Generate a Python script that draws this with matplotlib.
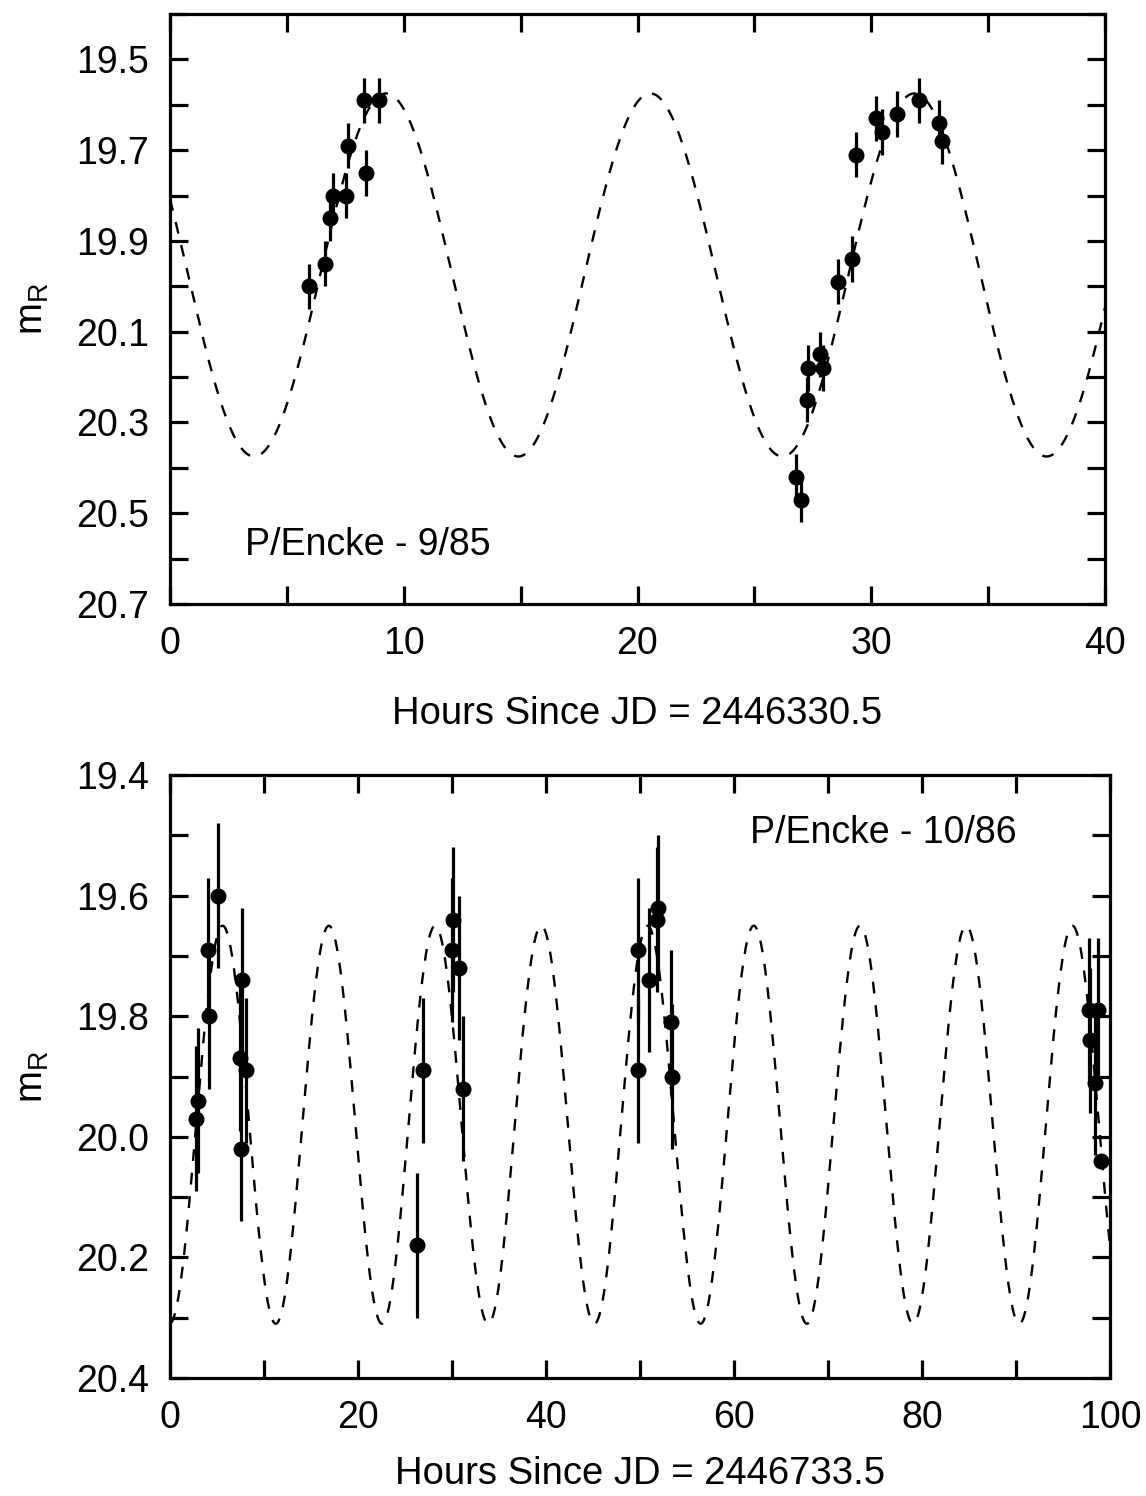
import numpy as np
import matplotlib
matplotlib.use("Agg")
import matplotlib.pyplot as plt
from matplotlib.ticker import MultipleLocator, FormatStrFormatter, FixedLocator

plt.rcParams['font.family'] = ['Liberation Sans', 'DejaVu Sans']
plt.rcParams['mathtext.fontset'] = 'custom'
plt.rcParams['mathtext.rm'] = 'Liberation Sans'
plt.rcParams['mathtext.it'] = 'Liberation Sans'

# ---- Panel 1: P/Encke - 9/85 ----
hours_1 = [5.95, 6.63, 6.84, 6.97, 7.53, 7.60, 8.30, 8.38, 8.94,
           26.8, 27.0, 27.25, 27.3, 27.8, 27.94, 28.58, 29.18, 29.35,
           30.2, 30.46, 31.1, 32.04, 32.9, 33.03]
mag_1 = [20.00, 19.95, 19.85, 19.80, 19.80, 19.69, 19.59, 19.75, 19.59,
         20.42, 20.47, 20.25, 20.18, 20.15, 20.18, 19.99, 19.94, 19.71,
         19.63, 19.66, 19.62, 19.59, 19.64, 19.68]
err_1 = [0.05] * len(hours_1)
# sinusoidal model fit: mean, semi-amplitude, period (h), epoch of faintest
model_1 = dict(mean=19.975, amp=0.40, period=11.3, t_min=3.6)
yticks_1 = [19.5, 19.7, 19.9, 20.1, 20.3, 20.5, 20.7]

# ---- Panel 2: P/Encke - 10/86 ----
hours_2 = [2.77, 2.98, 4.05, 4.15, 5.1, 7.45, 7.55, 7.66, 8.1,
           26.3, 26.9, 30.0, 30.1, 30.7, 31.2,
           49.8, 49.8, 51.0, 51.8, 51.9, 53.3, 53.4,
           97.8, 97.9, 98.4, 98.7, 99.0]
mag_2 = [19.97, 19.94, 19.69, 19.80, 19.60, 19.87, 20.02, 19.74, 19.89,
         20.18, 19.89, 19.69, 19.64, 19.72, 19.92,
         19.69, 19.89, 19.74, 19.64, 19.62, 19.81, 19.90,
         19.79, 19.84, 19.91, 19.79, 20.04]
err_2 = [0.12] * (len(hours_2) - 1) + [0.0]
model_2 = dict(mean=19.98, amp=0.33, period=11.3, t_min=11.25)
yticks_2 = [19.4, 19.6, 19.8, 20.0, 20.2, 20.4]

W, H = 1146, 1496
fig = plt.figure(figsize=(W / 100, H / 100), dpi=100)

def box(l, t, r, b):
    return [l / W, 1 - b / H, (r - l) / W, (b - t) / H]

ax1 = fig.add_axes(box(170, 14, 1105, 604))
ax2 = fig.add_axes(box(170, 775, 1110, 1378))

FS = 27
LFS = 27.5

def style(ax, xlim, ylim, xmaj, xmin, yticks):
    ax.set_xlim(*xlim)
    ax.set_ylim(*ylim)
    ax.xaxis.set_major_locator(MultipleLocator(xmaj))
    ax.xaxis.set_minor_locator(MultipleLocator(xmin))
    ax.yaxis.set_major_locator(FixedLocator(yticks))
    ax.yaxis.set_minor_locator(MultipleLocator(0.1))
    ax.yaxis.set_major_formatter(FormatStrFormatter('%.1f'))
    for s in ax.spines.values():
        s.set_linewidth(2.3)
    ax.tick_params(which='both', direction='in', top=True, right=True,
                   length=13, width=2.3, labelsize=FS)
    ax.tick_params(axis='y', pad=15)
    ax.tick_params(axis='x', pad=16)

def model_curve(ax, p, xlim):
    t = np.linspace(xlim[0], xlim[1], 1500)
    m = p['mean'] + p['amp'] * np.cos(2 * np.pi * (t - p['t_min']) / p['period'])
    ax.plot(t, m, color='black', lw=1.7, dashes=(5, 5))

def data(ax, x, y, e):
    ax.errorbar(x, y, yerr=e, fmt='o', color='black', ms=10.5,
                elinewidth=2.3, capsize=0, zorder=3)

# top panel
xl1 = (0, 40)
model_curve(ax1, model_1, xl1)
data(ax1, hours_1, mag_1, err_1)
style(ax1, xl1, (20.7, 19.4), 10, 5, yticks_1)
ax1.set_xlabel('Hours Since JD = 2446330.5', fontsize=LFS, labelpad=24)
ax1.set_ylabel(r'm$_\mathregular{R}$', fontsize=LFS, labelpad=18)
ax1.text(0.08, 0.10, 'P/Encke - 9/85', transform=ax1.transAxes,
         fontsize=FS, va='center', ha='left')

# bottom panel
xl2 = (0, 100)
model_curve(ax2, model_2, xl2)
data(ax2, hours_2, mag_2, err_2)
style(ax2, xl2, (20.4, 19.4), 20, 10, yticks_2)
ax2.set_xlabel('Hours Since JD = 2446733.5', fontsize=LFS, labelpad=14)
ax2.set_ylabel(r'm$_\mathregular{R}$', fontsize=LFS, labelpad=18)
ax2.text(0.617, 0.904, 'P/Encke - 10/86', transform=ax2.transAxes,
         fontsize=FS, va='center', ha='left')

fig.savefig('out.png', dpi=100)
